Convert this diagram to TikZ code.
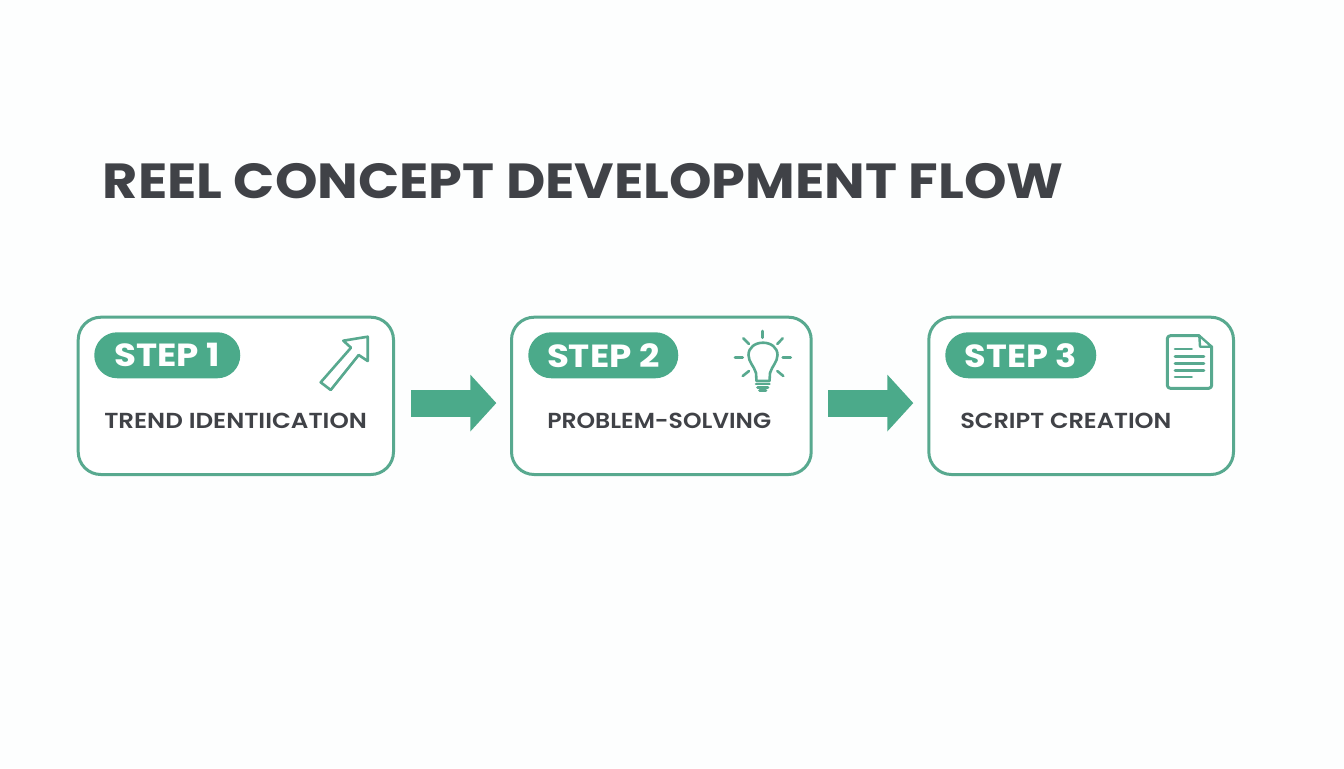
\documentclass[tikz,border=0pt]{standalone}
\usepackage{fontspec}
\setmainfont{Poppins}
\newfontfamily\capfont{Poppins SemiBold}
\usetikzlibrary{arrows.meta}
\definecolor{tealgreen}{HTML}{4BAA8A}
\definecolor{boxline}{HTML}{58A98F}
\definecolor{inkdark}{HTML}{404247}
\definecolor{paper}{HTML}{FDFEFE}
\newlength{\px}\setlength{\px}{0.75pt}
\tikzset{
  x=0.75pt,y=-0.75pt,
  stepbox/.style={draw=boxline,line width=3\px,rounded corners=17pt,fill=white,inner sep=0pt,anchor=north west,minimum height=157.3\px},
  pill/.style={fill=tealgreen,rounded corners=17.25pt,minimum height=46\px,inner sep=0pt,text=white,font=\bfseries\fontsize{24pt}{24pt}\selectfont,anchor=north west},
  caption/.style={text=inkdark,inner sep=0pt,anchor=base west,font=\capfont\fontsize{16.3pt}{16.3pt}\selectfont},
  headline/.style={text=inkdark,inner sep=0pt,anchor=base west,font=\bfseries\fontsize{37pt}{37pt}\selectfont},
  blockarrow/.style={draw=tealgreen,line width=20.25pt,-{Triangle[length=19.5pt,width=41.5pt]}},
  iconline/.style={draw=boxline,line width=2.6\px,line cap=round,line join=round},
  docline/.style={draw=boxline,line width=3\px,line cap=round,line join=round},
}
\begin{document}
\begin{tikzpicture}
\useasboundingbox (0,0) rectangle (1344,768);
\fill[paper] (0,0) rectangle (1344,768);
\node[headline] (title) at (102.5,198) {\scalebox{1.097}[1]{REEL CONCEPT DEVELOPMENT FLOW}};

\node[stepbox,minimum width=315.3\px] (box1) at (76.7,315.7) {};
\node[stepbox,minimum width=299.7\px] (box2) at (510,315.7) {};
\node[stepbox,minimum width=304.7\px] (box3) at (927.3,315.7) {};

\node[pill,minimum width=146\px] (pill1) at (94,332) {\scalebox{1.116}[1]{STEP 1}};
\node[pill,minimum width=150\px] (pill2) at (528,332) {\scalebox{1.115}[1]{STEP 2}};
\node[pill,minimum width=151\px] (pill3) at (945,332) {\scalebox{1.1}[1]{STEP 3}};

\node[caption] (cap1) at (104,428) {\scalebox{1.13}[1]{TREND IDENTIICATION}};
\node[caption] (cap2) at (547,428) {\scalebox{1.085}[1]{PROBLEM-SOLVING}};
\node[caption] (cap3) at (960,428) {\scalebox{1.11}[1]{SCRIPT CREATION}};

\draw[blockarrow,shorten <=12pt,shorten >=10.25pt] ([yshift=-5.4pt]box1.east) -- ([yshift=-5.4pt]box2.west);
\draw[blockarrow,shorten <=11.5pt,shorten >=10.5pt] ([yshift=-5.4pt]box2.east) -- ([yshift=-5.4pt]box3.west);

% growth arrow icon
\draw[iconline,miter limit=4] (367.7,336.7) -- (343.3,340.7) -- (351,347.7) -- (320.7,382.3) -- (330.7,390) -- (358.7,355) -- (367.7,361) -- cycle;

% light bulb icon
\draw[iconline] (756.5,381) -- (756,373) .. controls (754,366) and (748.5,362) .. (748.5,355)
  .. controls (748.5,347.5) and (755,342.7) .. (763,342.7)
  .. controls (771,342.7) and (777.5,347.5) .. (777.5,355)
  .. controls (777.5,362) and (772,366) .. (770,373) -- (769.5,381) -- cycle;
\draw[iconline] (762.7,331) -- (762.7,337.7);
\draw[iconline] (735,357.3) -- (742.7,357.3);
\draw[iconline] (782.7,357.3) -- (790.7,357.3);
\draw[iconline] (743.3,338.3) -- (749,344);
\draw[iconline] (782.7,338.3) -- (777.3,344);
\draw[iconline] (742.7,376) -- (749,371);
\draw[iconline] (783.3,376) -- (777.3,371);
\draw[iconline] (756,384) -- (769.5,384);
\draw[iconline] (757.5,387.3) -- (768,387.3);
\draw[iconline] (759.5,390.3) -- (766,390.3);

% document icon
\draw[docline,rounded corners=3\px] (1199.3,335.7) -- (1167.3,335.7) -- (1167.3,388.3) -- (1211.7,388.3) -- (1211.7,346.7);
\draw[docline,line width=2.4\px] (1199.3,335.7) -- (1211.7,346.7) -- (1200,346.7) -- cycle;
\draw[iconline] (1175,349) -- (1191.7,349);
\draw[iconline] (1175,356.3) -- (1204,356.3);
\draw[iconline] (1175,363.3) -- (1204,363.3);
\draw[iconline] (1175,370.3) -- (1204,370.3);
\draw[iconline] (1175,377) -- (1191.7,377);
\end{tikzpicture}
\end{document}
